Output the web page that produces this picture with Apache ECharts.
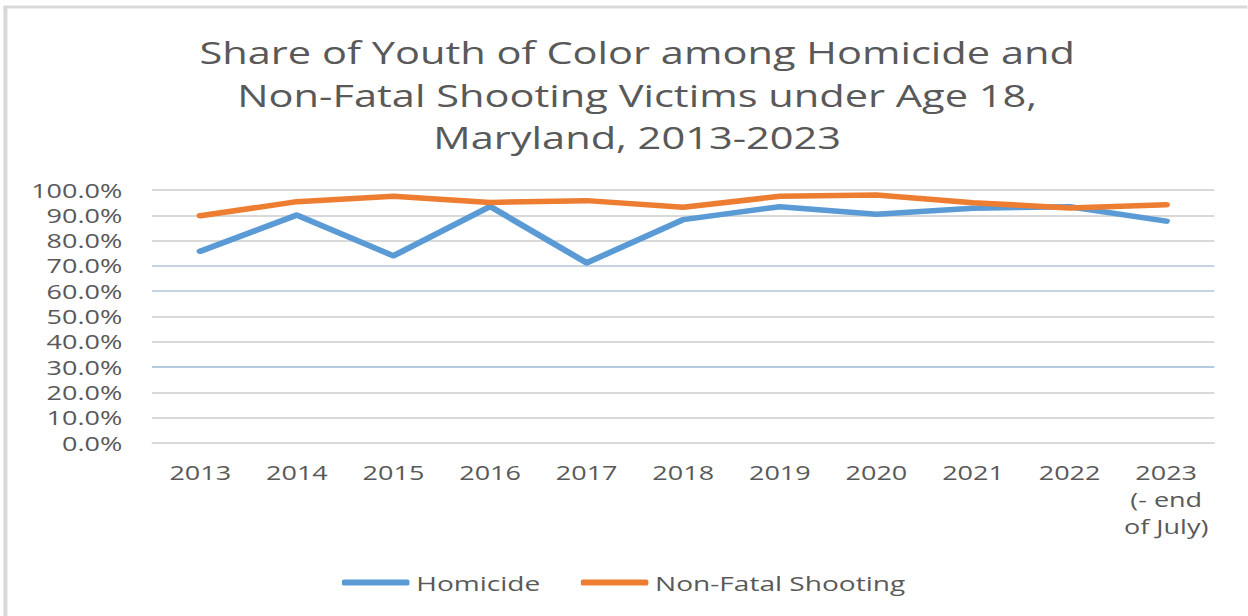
<!DOCTYPE html>
<html>
<head>
<meta charset="utf-8">
<script src="https://cdn.jsdelivr.net/npm/echarts@6/dist/echarts.min.js"></script>
<style>
html, body { margin: 0; padding: 0; background: #fff; overflow: hidden; }
/* the reference picture is stretched sideways, so the chart is drawn narrower and scaled */
#main { width: 924px; height: 616px; transform: scaleX(1.35); transform-origin: 0 0; }
</style>
</head>
<body>
<div id="main"></div>
<script>
var years = ['2013', '2014', '2015', '2016', '2017', '2018', '2019', '2020', '2021', '2022', '2023\n(- end\nof July)'];
var homicide = [75.8, 90.1, 74.0, 93.5, 71.2, 88.3, 93.4, 90.4, 92.8, 93.4, 87.7];
var nonFatal = [89.8, 95.4, 97.5, 95.1, 95.8, 93.2, 97.5, 98.0, 95.0, 92.9, 94.2];

var myChart = echarts.init(document.getElementById('main'), null, { renderer: 'svg' });
var textColor = '#595959';
var option = {
    animation: false,
    backgroundColor: '#fff',
    textStyle: { fontFamily: 'Open Sans' },
    title: {
        text: 'Share of Youth of Color among Homicide and\nNon-Fatal Shooting Victims under Age 18,\nMaryland, 2013-2023',
        left: 467,
        textAlign: 'center',
        top: 26,
        textStyle: {
            fontFamily: 'Open Sans',
            fontWeight: 'normal',
            fontSize: 30.8,
            lineHeight: 42.5,
            color: textColor
        }
    },
    graphic: [{
        type: 'rect',
        shape: { x: 4, y: 7, width: 1400, height: 800 },
        style: { fill: 'none', stroke: '#d9d9d9', lineWidth: 3 }
    }],
    legend: {
        top: 567,
        left: 'center',
        icon: 'roundRect',
        itemWidth: 50,
        itemHeight: 6,
        itemGap: 30,
        textStyle: { fontSize: 20.8, color: textColor, fontFamily: 'Open Sans' },
        data: ['Homicide', 'Non-Fatal Shooting']
    },
    grid: { left: 112.6, right: 24.4, top: 190, bottom: 173 },
    xAxis: {
        type: 'category',
        data: years,
        boundaryGap: true,
        axisLine: { lineStyle: { color: '#d9d9d9', width: 1 } },
        axisTick: { show: false },
        axisLabel: { color: textColor, fontSize: 20, lineHeight: 27, margin: 16, interval: 0 }
    },
    yAxis: {
        type: 'value',
        min: 0,
        max: 100,
        interval: 10,
        axisLine: { show: false },
        axisTick: { show: false },
        axisLabel: {
            color: textColor,
            fontSize: 20,
            margin: 22,
            formatter: function (v) { return v.toFixed(1) + '%'; }
        },
        splitLine: {
            lineStyle: {
                color: ['#d9d9d9', '#d9d9d9', '#d9d9d9', '#b4cbe0', '#d9d9d9', '#d9d9d9', '#c6d4e2', '#c6d4e2', '#d9d9d9', '#d9d9d9', '#d9d9d9'],
                width: 2
            }
        }
    },
    series: [
        {
            name: 'Homicide',
            type: 'line',
            data: homicide,
            symbol: 'none',
            color: '#5B9BD5',
            lineStyle: { width: 5.5, cap: 'round', join: 'round' }
        },
        {
            name: 'Non-Fatal Shooting',
            type: 'line',
            data: nonFatal,
            symbol: 'none',
            color: '#ED7D31',
            lineStyle: { width: 5.5, cap: 'round', join: 'round' }
        }
    ]
};
myChart.setOption(option);
</script>
</body>
</html>
